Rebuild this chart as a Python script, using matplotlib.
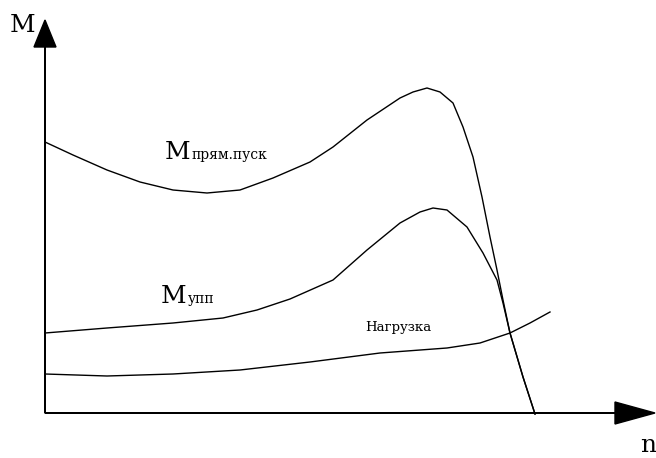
import numpy as np
import matplotlib.pyplot as plt

# curves, in plot units (origin at the axes crossing, y up)
x_direct = [0, 28, 62, 95, 128, 162, 195, 228, 265, 288, 322, 355, 368, 382, 395, 408, 418, 428, 437, 445, 452, 458, 465, 478, 490]
y_direct = [271, 258, 243, 231, 223, 220, 223, 235, 251, 266, 293, 315, 321, 325, 321, 310, 286, 256, 216, 176, 143, 113, 80, 36, -1]

x_soft = [0, 62, 128, 178, 212, 245, 288, 322, 355, 375, 388, 402, 422, 438, 452, 458, 465, 478, 490]
y_soft = [80, 85, 90, 95, 103, 114, 133, 163, 190, 201, 205, 203, 186, 160, 133, 110, 80, 36, -1]

x_load = [0, 62, 128, 195, 265, 335, 402, 435, 465, 485, 505]
y_load = [39, 37, 39, 43, 51, 60, 65, 70, 80, 90, 101]

fig = plt.figure(figsize=(6.56, 4.58), dpi=100)
ax = fig.add_axes([0, 0, 1, 1])
ax.set_xlim(-45, 611)
ax.set_ylim(-45, 413)
ax.axis('off')

lw = 1.0
ax.plot(x_direct, y_direct, color='black', lw=lw, solid_joinstyle='round')
ax.plot(x_soft, y_soft, color='black', lw=lw, solid_joinstyle='round')
ax.plot(x_load, y_load, color='black', lw=lw, solid_joinstyle='round')

# axes with arrow heads
ax.arrow(0, 0, 0, 366, head_width=22, head_length=27, fc='black', ec='black', lw=1)
ax.arrow(0, 0, 570, 0, head_width=22, head_length=40, fc='black', ec='black', lw=1)

serif = 'DejaVu Serif'
ax.text(-35, 388, 'M', fontsize=18, family=serif, va='center', ha='left')
ax.text(603, -33, 'n', fontsize=18, family=serif, va='center', ha='center')

ax.text(120, 254, 'M', fontsize=18, family=serif, va='baseline', ha='left')
ax.text(147, 254, 'прям.пуск', fontsize=10, family=serif, va='baseline', ha='left')
ax.text(116, 110, 'M', fontsize=18, family=serif, va='baseline', ha='left')
ax.text(143, 110, 'упп', fontsize=10, family=serif, va='baseline', ha='left')
ax.text(320, 82, 'Нагрузка', fontsize=9.5, family=serif, va='baseline', ha='left')

fig.savefig('out.png', dpi=100)
